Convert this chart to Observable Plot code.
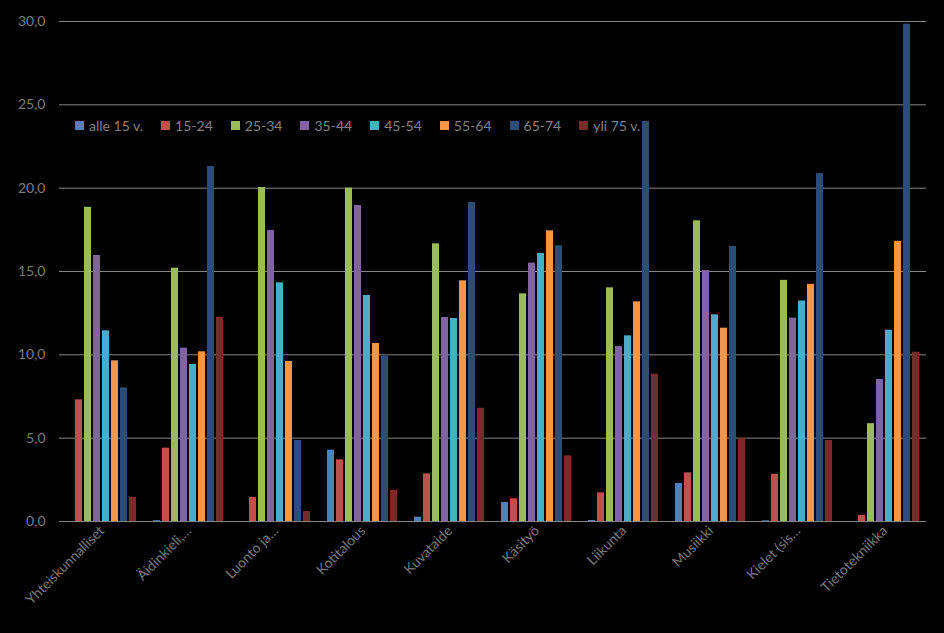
<!DOCTYPE html>
<html><head><meta charset="utf-8">
<script src="https://cdn.jsdelivr.net/npm/d3@7"></script>
<script src="https://cdn.jsdelivr.net/npm/@observablehq/plot@0.6"></script>
<style>
html,body{margin:0;padding:0;background:#000;}
#chart{position:relative;width:944px;height:633px;overflow:hidden;background:#000;}
#chart svg{display:block;max-width:none !important;}
#grid{position:absolute;left:0;top:0;width:926px;height:633px;overflow:hidden;}
#bars{position:absolute;left:0;top:0;}
#legend{position:absolute;left:75px;top:109px;font-family:Lato,sans-serif;font-size:14px;color:#808080;}
#legend span[class$="-swatch"]{margin-right:18px !important;}
#legend span[class$="-swatch"] svg{margin-right:5px !important;}
</style></head><body><div id="chart"><div id="grid"></div><div id="bars"></div><div id="legend"></div></div>
<script>
const categories = ["Yhteiskunnalliset","Äidinkieli,…","Luonto ja…","Kotitalous","Kuvataide","Käsityö","Liikunta","Musiikki","Kielet (sis…","Tietotekniikka"];
const ageGroups = ["alle 15 v.","15-24","25-34","35-44","45-54","55-64","65-74","yli 75 v."];
const colors = ["#4F81BD","#C0504D","#9BBB59","#8064A2","#4BACC6","#F79646","#2C4D75","#772C2A"];
const alle15 = [0, 0.05, 0, 4.28, 0.26, 1.14, 0.06, 2.28, 0.04, 0];
const v15_24 = [7.3, 4.4, 1.44, 3.7, 2.86, 1.36, 1.72, 2.92, 2.83, 0.37];
const v25_34 = [18.85, 15.2, 20.04, 20.0, 16.66, 13.66, 14.02, 18.04, 14.47, 5.87];
const v35_44 = [15.96, 10.4, 17.46, 18.96, 12.24, 15.5, 10.5, 15.06, 12.2, 8.52];
const v45_54 = [11.44, 9.42, 14.32, 13.56, 12.18, 16.08, 11.14, 12.4, 13.23, 11.48];
const v55_64 = [9.64, 10.18, 9.6, 10.68, 14.44, 17.44, 13.18, 11.6, 14.23, 16.81];
const v65_74 = [8.02, 21.3, 4.86, 9.92, 19.14, 16.54, 24.0, 16.5, 20.87, 29.84];
const yli75 = [1.44, 12.24, 0.6, 1.86, 6.8, 3.94, 8.84, 5.0, 4.86, 10.16];
const yTicks = [0, 5, 10, 15, 20, 25, 30];

const series = [alle15, v15_24, v25_34, v35_44, v45_54, v55_64, v65_74, yli75];
const data = categories.flatMap((c, i) => ageGroups.map((g, j) => ({category: c, group: g, value: series[j][i]})));

// Gridlines layer (same vertical scale as the bars, spanning the full plot area)
const grid = Plot.plot({
  width: 944,
  height: 633,
  marginLeft: 59,
  marginRight: 18,
  marginTop: 21,
  marginBottom: 112,
  style: {background: "#000"},
  x: {domain: [0, 1], axis: null},
  y: {domain: [0, 30], axis: null},
  marks: [
    Plot.ruleY(yTicks, {x1: 0, x2: 1, stroke: "#858585", strokeWidth: 1})
  ]
});
document.getElementById("grid").appendChild(grid);

const chart = Plot.plot({
  width: 944,
  height: 633,
  marginLeft: 61,
  marginRight: 19,
  marginTop: 21,
  marginBottom: 112,
  style: {background: "transparent", color: "#7a7a7a", fontFamily: "Lato, sans-serif", fontSize: "14px"},
  fx: {domain: categories, paddingInner: 0.18, paddingOuter: 0.04, label: null, axis: "bottom", tickRotate: -45, tickSize: 0, tickPadding: 7},
  x: {domain: ageGroups, axis: null, paddingInner: 0.22, paddingOuter: 0},
  y: {domain: [0, 30], ticks: yTicks, tickFormat: d => d.toFixed(1).replace(".", ","), label: null, tickSize: 0, tickPadding: 21},
  color: {domain: ageGroups, range: colors},
  marks: [
    Plot.barY(data, {fx: "category", x: "group", y: "value", fill: "group"})
  ]
});
document.getElementById("bars").appendChild(chart);

const leg = Plot.legend({color: {domain: ageGroups, range: colors}, swatchSize: 9, style: {background: "transparent", color: "#808080", fontFamily: "Lato, sans-serif", fontSize: "14px"}});
document.getElementById("legend").appendChild(leg);
</script>
</body></html>
